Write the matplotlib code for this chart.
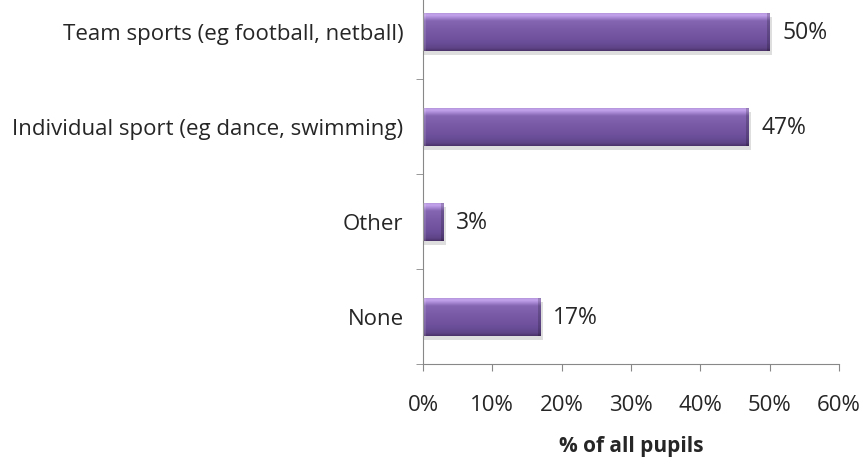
import numpy as np, matplotlib; matplotlib.use("Agg")
import matplotlib.pyplot as plt
from matplotlib.patches import Rectangle
from matplotlib.colors import LinearSegmentedColormap

categories = ['Team sports (eg football, netball)', 'Individual sport (eg dance, swimming)', 'Other', 'None']
values = [50, 47, 3, 17]
xticks = [0, 10, 20, 30, 40, 50, 60]

plt.rcParams['font.family'] = ['Open Sans', 'DejaVu Sans']
fig = plt.figure(figsize=(8.63, 4.65), dpi=100)
ax = fig.add_axes([0.4902, 0.2172, 0.4820, 0.8172])

n = len(categories)
ypos = np.arange(n)[::-1]
bh = 0.40
# vertical shade for the bevelled bar look: dark bottom edge, flat body, light top edge
shade = LinearSegmentedColormap.from_list('bar', [
    (0.0, '#4a3169'), (0.08, '#5f4488'), (0.25, '#6c4f9a'), (0.6, '#7a5ca9'),
    (0.8, '#8466b3'), (0.88, '#a887d4'), (0.95, '#c4a4ec'), (1.0, '#b496dc')])
grad = np.linspace(0, 1, 128).reshape(-1, 1)
for y, v in zip(ypos, values):
    # soft shadow under the bar
    ax.add_patch(Rectangle((0.1, y - bh / 2 - 0.045), v + 0.2, bh, color='#000000', alpha=0.13, lw=0, zorder=1))
    r = Rectangle((0, y - bh / 2), v, bh, facecolor='none', lw=0, zorder=2)
    ax.add_patch(r)
    im = ax.imshow(grad, cmap=shade, aspect='auto', extent=[0, v, y - bh / 2, y + bh / 2], origin='lower', zorder=2)
    im.set_clip_path(r)
    # bevel edges on left/right
    ew = min(0.45, v * 0.12)
    ax.add_patch(Rectangle((0, y - bh / 2), ew, bh, color='#ffffff', alpha=0.12, lw=0, zorder=3))
    ax.add_patch(Rectangle((v - ew, y - bh / 2), ew, bh, color='#000000', alpha=0.18, lw=0, zorder=3))
    ax.text(v + 1.8, y - 0.02, f"{v}%", va='center', ha='left', fontsize=16.5, color='#262626')

ax.set_xlim(0, 60)
ax.set_ylim(-0.5, n - 0.5)
ax.set_xticks(xticks)
ax.set_xticklabels([f"{t}%" for t in xticks], fontsize=16, color='#262626')
ax.set_yticks(ypos)
ax.set_yticklabels(categories, fontsize=16, color='#262626')
ax.set_yticks(np.arange(n + 1) - 0.5, minor=True)
ax.tick_params(axis='y', which='major', length=0, pad=14)
ax.tick_params(axis='y', which='minor', length=5, color='#888888')
ax.tick_params(axis='x', length=5, color='#888888', pad=17)
ax.set_xlabel('% of all pupils', fontsize=15, fontweight='bold', labelpad=15, color='#262626')
for s in ['top', 'right']:
    ax.spines[s].set_visible(False)
for s in ['left', 'bottom']:
    ax.spines[s].set_color('#888888')

fig.savefig('out.png', dpi=100)
